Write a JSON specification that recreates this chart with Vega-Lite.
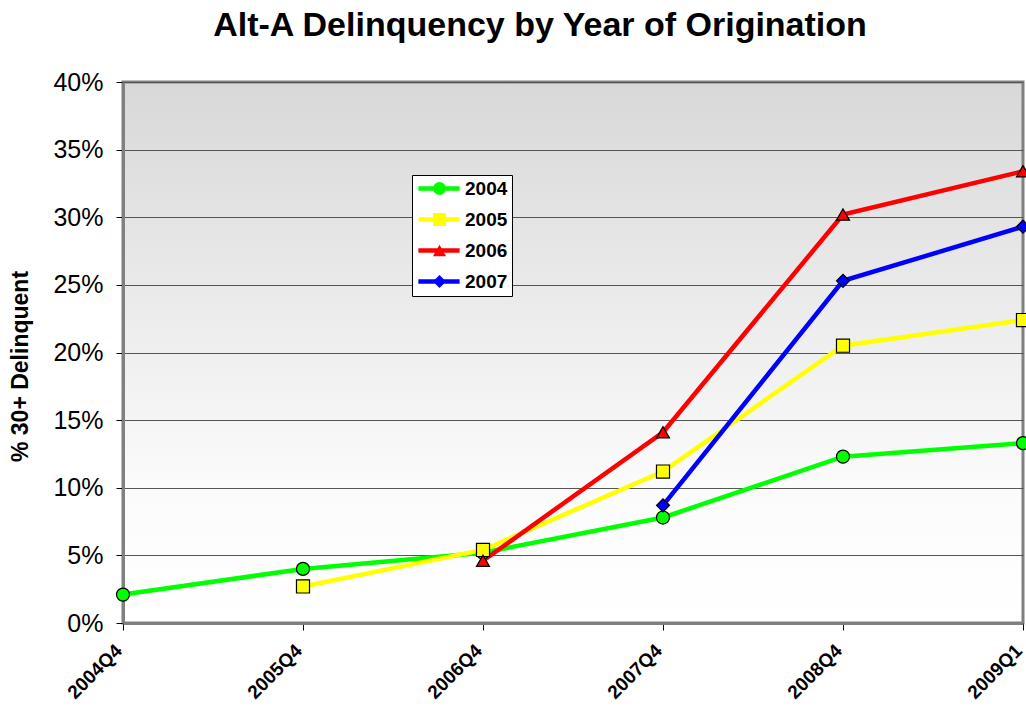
{
  "$schema": "https://vega.github.io/schema/vega-lite/v6.json",
  "width": 900,
  "height": 541,
  "autosize": {"type": "none"},
  "padding": {"left": 123, "top": 82, "right": 3, "bottom": 86},
  "background": "#ffffff",
  "title": {
    "text": "Alt-A Delinquency by Year of Origination",
    "font": "Liberation Sans",
    "fontSize": 34,
    "fontWeight": "bold",
    "color": "#000000",
    "anchor": "middle",
    "frame": "group",
    "dx": -33,
    "offset": 27
  },
  "config": {
    "view": {
      "fill": {
        "gradient": "linear",
        "x1": 0, "y1": 0, "x2": 0, "y2": 1,
        "stops": [
          {"offset": 0, "color": "#d8d8d8"},
          {"offset": 0.75, "color": "#fbfbfb"},
          {"offset": 1, "color": "#ffffff"}
        ]
      },
      "stroke": "#808080",
      "strokeWidth": 3
    },
    "font": "Liberation Sans"
  },
  "data": {
    "values": [
      {"q": "2004Q4", "vintage": "2004", "v": 0.021},
      {"q": "2005Q4", "vintage": "2004", "v": 0.040},
      {"q": "2006Q4", "vintage": "2004", "v": 0.052},
      {"q": "2007Q4", "vintage": "2004", "v": 0.078},
      {"q": "2008Q4", "vintage": "2004", "v": 0.123},
      {"q": "2009Q1", "vintage": "2004", "v": 0.133},
      {"q": "2005Q4", "vintage": "2005", "v": 0.027},
      {"q": "2006Q4", "vintage": "2005", "v": 0.054},
      {"q": "2007Q4", "vintage": "2005", "v": 0.112},
      {"q": "2008Q4", "vintage": "2005", "v": 0.205},
      {"q": "2009Q1", "vintage": "2005", "v": 0.224},
      {"q": "2006Q4", "vintage": "2006", "v": 0.046},
      {"q": "2007Q4", "vintage": "2006", "v": 0.141},
      {"q": "2008Q4", "vintage": "2006", "v": 0.302},
      {"q": "2009Q1", "vintage": "2006", "v": 0.334},
      {"q": "2007Q4", "vintage": "2007", "v": 0.087},
      {"q": "2008Q4", "vintage": "2007", "v": 0.253},
      {"q": "2009Q1", "vintage": "2007", "v": 0.293}
    ]
  },
  "encoding": {
    "x": {
      "field": "q",
      "type": "ordinal",
      "sort": ["2004Q4", "2005Q4", "2006Q4", "2007Q4", "2008Q4", "2009Q1"],
      "scale": {"type": "point", "padding": 0},
      "axis": {
        "title": null,
        "labelAngle": -45,
        "labelAlign": "right",
        "labelBaseline": "top",
        "labelFont": "Liberation Sans",
        "labelFontSize": 19,
        "labelFontWeight": "bold",
        "labelColor": "#000000",
        "labelPadding": 11,
        "labelOffset": -11,
        "labelBound": false,
        "labelFlush": false,
        "labelOverlap": false,
        "tickColor": "#000000",
        "tickSize": 7,
        "domainColor": "#808080",
        "domainWidth": 3,
        "grid": false
      }
    },
    "y": {
      "field": "v",
      "type": "quantitative",
      "scale": {"domain": [0, 0.4], "nice": false},
      "axis": {
        "title": "% 30+ Delinquent",
        "titleFont": "Liberation Sans",
        "titleFontSize": 23,
        "titleFontWeight": "bold",
        "titleColor": "#000000",
        "titlePadding": 20,
        "titleY": 284,
        "format": ".0%",
        "values": [0, 0.05, 0.1, 0.15, 0.2, 0.25, 0.3, 0.35, 0.4],
        "labelFont": "Liberation Sans",
        "labelFontSize": 25,
        "labelColor": "#000000",
        "labelPadding": 13,
        "tickColor": "#000000",
        "tickSize": 7,
        "domainColor": "#808080",
        "domainWidth": 3,
        "grid": true,
        "gridColor": "#555555",
        "gridOpacity": 1
      }
    }
  },
  "layer": [
    {
      "mark": {"type": "line", "strokeWidth": 4.5},
      "encoding": {
        "color": {
          "field": "vintage",
          "type": "nominal",
          "scale": {"range": ["#00ff00", "#ffff00", "#ff0000", "#0000ff"]},
          "legend": {
            "title": null,
            "orient": "none",
            "legendX": 289,
            "legendY": 93,
            "fillColor": "#ffffff",
            "strokeColor": "#000000",
            "padding": 4,
            "labelFont": "Liberation Sans",
            "labelFontSize": 19,
            "labelFontWeight": "bold",
            "labelColor": "#000000",
            "symbolType": "stroke",
            "symbolSize": 1700,
            "symbolStrokeWidth": 4.5,
            "clipHeight": 19,
            "rowPadding": 11,
            "labelOffset": 3
          }
        }
      }
    },
    {
      "mark": {"type": "point", "filled": true, "size": 170, "stroke": "#000000", "strokeWidth": 1.2, "opacity": 1},
      "encoding": {
        "fill": {
          "field": "vintage",
          "type": "nominal",
          "scale": {
            "domain": ["2004", "2005", "2006", "2007"],
            "range": ["#00ff00", "#ffff00", "#ff0000", "#0000ff"]
          },
          "legend": {
            "title": null,
            "orient": "none",
            "legendX": 303,
            "legendY": 93,
            "padding": 4,
            "labelExpr": "''",
            "labelFontSize": 19,
            "symbolSize": 170,
            "symbolStrokeColor": "#000000",
            "symbolStrokeWidth": 1.2,
            "symbolOpacity": 1,
            "clipHeight": 19,
            "rowPadding": 11,
            "labelOffset": 4
          }
        },
        "shape": {
          "field": "vintage",
          "type": "nominal",
          "scale": {
            "domain": ["2004", "2005", "2006", "2007"],
            "range": ["circle", "square", "triangle-up", "diamond"]
          },
          "legend": {
            "title": null,
            "orient": "none",
            "legendX": 303,
            "legendY": 93,
            "padding": 4,
            "labelExpr": "''",
            "labelFontSize": 19,
            "symbolSize": 170,
            "symbolStrokeColor": "#000000",
            "symbolStrokeWidth": 1.2,
            "symbolOpacity": 1,
            "clipHeight": 19,
            "rowPadding": 11,
            "labelOffset": 4
          }
        }
      }
    }
  ]
}
